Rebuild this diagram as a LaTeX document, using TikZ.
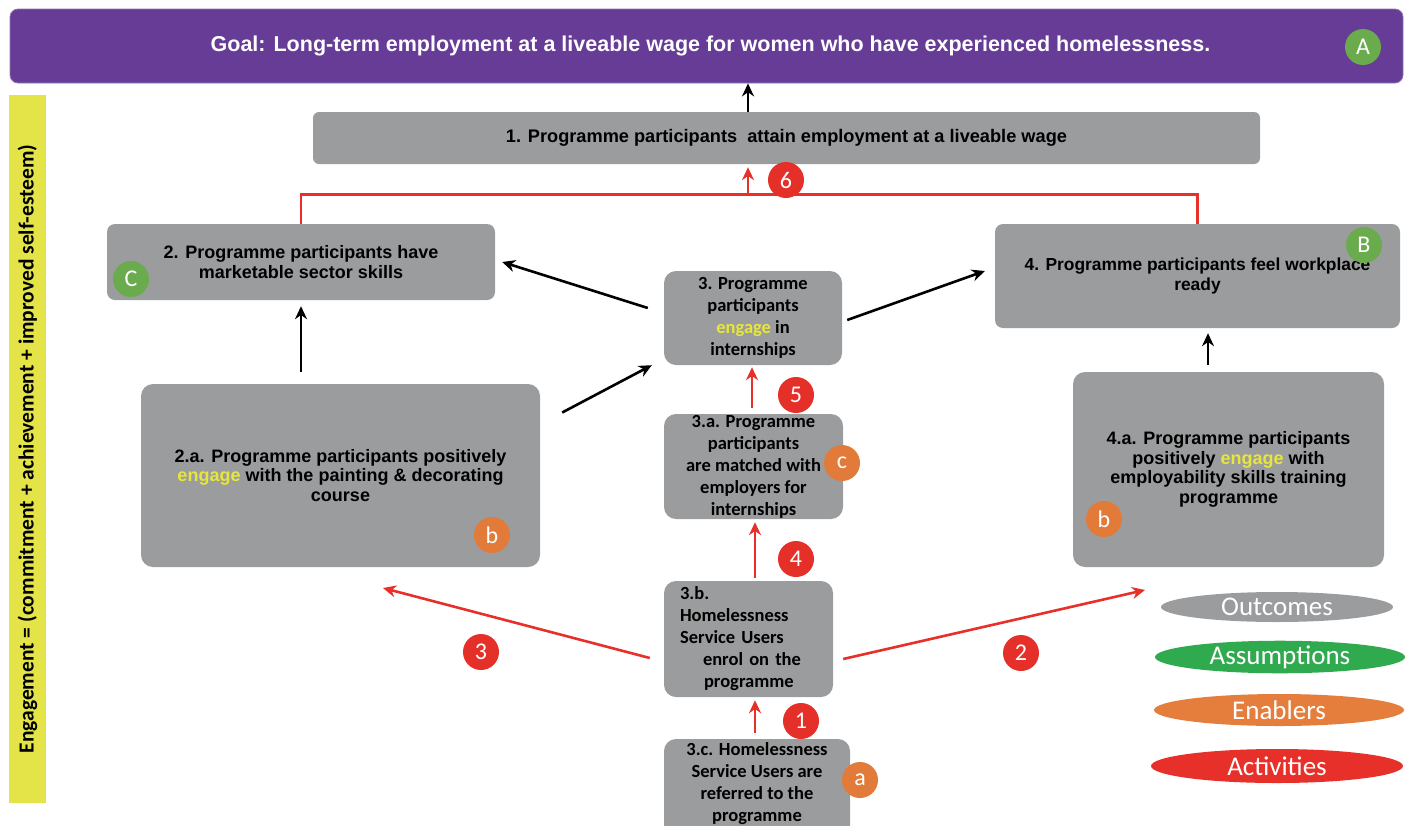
\documentclass[tikz,border=0pt]{standalone}
\usepackage{fontspec}
\setmainfont{Liberation Sans}
\newfontfamily\calfont{Carlito}
\usetikzlibrary{arrows.meta,calc,shapes.geometric}

\definecolor{goalpurple}{HTML}{663C96}
\definecolor{boxgrey}{HTML}{9B9C9D}
\definecolor{sideyellow}{HTML}{E4E448}
\definecolor{hiyellow}{HTML}{E6E63C}
\definecolor{badgegreen}{HTML}{6AAB4E}
\definecolor{badgeorange}{HTML}{E27B39}
\definecolor{badgered}{HTML}{E5302A}
\definecolor{legendgreen}{HTML}{2FAA4F}
\definecolor{legendorange}{HTML}{E57E3C}
\definecolor{arrowred}{HTML}{E8302A}

\tikzset{
  box/.style={rectangle, rounded corners=12pt, fill=boxgrey, inner sep=0pt,
    align=center, font=\bfseries\fontsize{18}{19.5}\selectfont},
  midbox/.style={box, font=\calfont\bfseries\fontsize{18.5}{22}\selectfont},
  badge/.style={circle, inner sep=0pt, minimum size=36pt, text=white,
    font=\calfont\fontsize{24}{24}\selectfont},
  gbadge/.style={badge, fill=badgegreen},
  obadge/.style={badge, fill=badgeorange},
  rbadge/.style={badge, fill=badgered},
  legend/.style={ellipse, inner sep=0pt, text=white,
    font=\calfont\fontsize{27}{27}\selectfont},
  blkarrow/.style={line width=2.6pt, black, -{Stealth[length=13pt,width=12pt]}},
  redarrow/.style={line width=2.6pt, arrowred, -{Stealth[length=13pt,width=12pt]}},
  redline/.style={line width=2.6pt, arrowred},
}
\newcommand{\eng}{\textcolor{hiyellow}{engage}}

\begin{document}
\begin{tikzpicture}[x=1pt,y=-1pt]
\useasboundingbox (0,0) rectangle (1413,825);
\clip (0,0) rectangle (1413,825);

% goal banner
\node[rectangle, rounded corners=8pt, fill=goalpurple, draw=goalpurple!70!white,
  line width=0.8pt, minimum width=1393pt, minimum height=74pt, text=white,
  font=\bfseries\fontsize{21.5}{22}\selectfont] (goal) at (706.5,46)
  {\hspace*{8pt}Goal: Long-term employment at a liveable wage for women who have experienced homelessness.};
\node[gbadge] (bA) at (1363,47) {A};

% engagement side bar
\node[rectangle, fill=sideyellow, rotate=90, minimum width=708pt, minimum height=37pt,
  inner sep=0pt, font=\calfont\bfseries\fontsize{21.5}{22}\selectfont] (side) at (27.5,449)
  {Engagement = (commitment + achievement + improved self-esteem)};

% outcome boxes
\node[box, rounded corners=6pt, minimum width=947pt, minimum height=52pt,
  font=\bfseries\fontsize{18.2}{19.5}\selectfont] (b1) at (786.5,138)
  {1. Programme participants\ \ attain employment at a liveable wage};
\node[box, rounded corners=8pt, minimum width=388pt, minimum height=76pt] (b2) at (301,262)
  {2. Programme participants have\\marketable sector skills};
\node[box, rounded corners=8pt, minimum width=405pt, minimum height=104pt,
  font=\bfseries\fontsize{17.4}{19.5}\selectfont] (b4) at (1197.5,276)
  {4. Programme participants feel workplace\\ready};
\node[midbox, minimum width=178pt, minimum height=94pt] (b3) at (753,318)
  {3. Programme\\participants\\\eng{} in\\internships};
\node[box, minimum width=399pt, minimum height=183pt] (b2a) at (340.5,475.5)
  {2.a. Programme participants positively\\\eng{} with the painting \& decorating\\course};
\node[midbox, minimum width=179pt, minimum height=105pt] (b3a) at (753.5,466.5)
  {3.a. Programme\\participants\\are matched with\\employers for\\internships};
\node[box, minimum width=311pt, minimum height=195pt] (b4a) at (1228.5,469.5)
  {4.a. Programme participants\\positively \eng{} with\\employability skills training\\programme};
\node[midbox, inner xsep=16pt, text width=137pt, align=left, minimum height=116pt] (b3b) at (748.5,639)
  {3.b.\\Homelessness\\Service Users\\\hspace*{23pt}enrol on the\\\hspace*{24pt}programme};
\node[midbox, minimum width=186pt, minimum height=110pt] (b3c) at (757,794) {};
\node[midbox, fill=none] (t3c) at (757,784)
  {3.c. Homelessness\\Service Users are\\referred to the\\programme};

% assumption and enabler badges
\node[gbadge] (bB) at (1364,245) {B};
\node[gbadge] (bC) at (131,279) {C};
\node[obadge] (eb1) at (492,535) {b};
\node[obadge] (ec) at (842,463) {c};
\node[obadge] (eb2) at (1104,519) {b};
\node[obadge] (ea) at (860,780) {a};

% outcome links
\draw[blkarrow] ($(b1.north)+(-38.5,0)$) -- ($(goal.south)+(41.5,0)$);
\draw[blkarrow] ($(b2a.north -| b2.south)+(0,-12)$) -- ($(b2.south)+(0,6)$);
\draw[blkarrow] ($(b4a.north)+(-20.5,-7)$) -- ($(b4.south)+(10.5,5)$);
\draw[blkarrow] ($(b3.west)+(-16,-10)$) -- ($(b2.east)+(7,0)$);
\draw[blkarrow] ($(b2a.east)+(22,-63)$) -- ($(b3.south west)+(-12,0)$);
\draw[blkarrow] ($(b3.east)+(5,2)$) -- ($(b4.west)+(-10,-5)$);

% activity links
\coordinate (bar) at ($(b1.south)+(-38.5,30)$);
\draw[redline] (b2.north) |- (bar) -| (b4.north);
\draw[redarrow] (bar) -- ($(b1.south)+(-38.5,3)$);
\draw[redarrow] ($(b3a.north)+(-1.5,-6)$) -- ($(b3.south)+(-1,2)$);
\draw[redarrow] ($(b3b.north)+(6.5,-3)$) -- ($(b3a.south)+(1.5,3)$);
\draw[redarrow] ($(b3c.north)+(-2,-6)$) -- ($(b3c.north |- b3b.south)+(-2,3)$);
\coordinate (p3) at (383,588);
\coordinate (p2) at (1145,590);
\draw[redarrow] ($(b3b.west)+(-14,19)$) -- (p3);
\draw[redarrow] ($(b3b.east)+(10,20)$) -- (p2);

% activity numbers
\node[rbadge] (n6) at (786,180) {6};
\node[rbadge] (n5) at (796,395) {5};
\node[rbadge] (n4) at (796,559) {4};
\node[rbadge] (n1) at (801,721) {1};
\node[rbadge] (n3) at (481,652) {3};
\node[rbadge] (n2) at (1021,653) {2};

% key
\node[legend, fill=boxgrey, minimum width=232pt, minimum height=30pt] (kO) at (1277,607) {Outcomes};
\node[legend, fill=legendgreen, minimum width=250pt, minimum height=32pt] (kA) at (1280,657) {Assumptions};
\node[legend, fill=legendorange, minimum width=250pt, minimum height=32pt] (kE) at (1279,710) {Enablers};
\node[legend, fill=arrowred, minimum width=252pt, minimum height=34pt] (kC) at (1277,766) {Activities};
\end{tikzpicture}
\end{document}
